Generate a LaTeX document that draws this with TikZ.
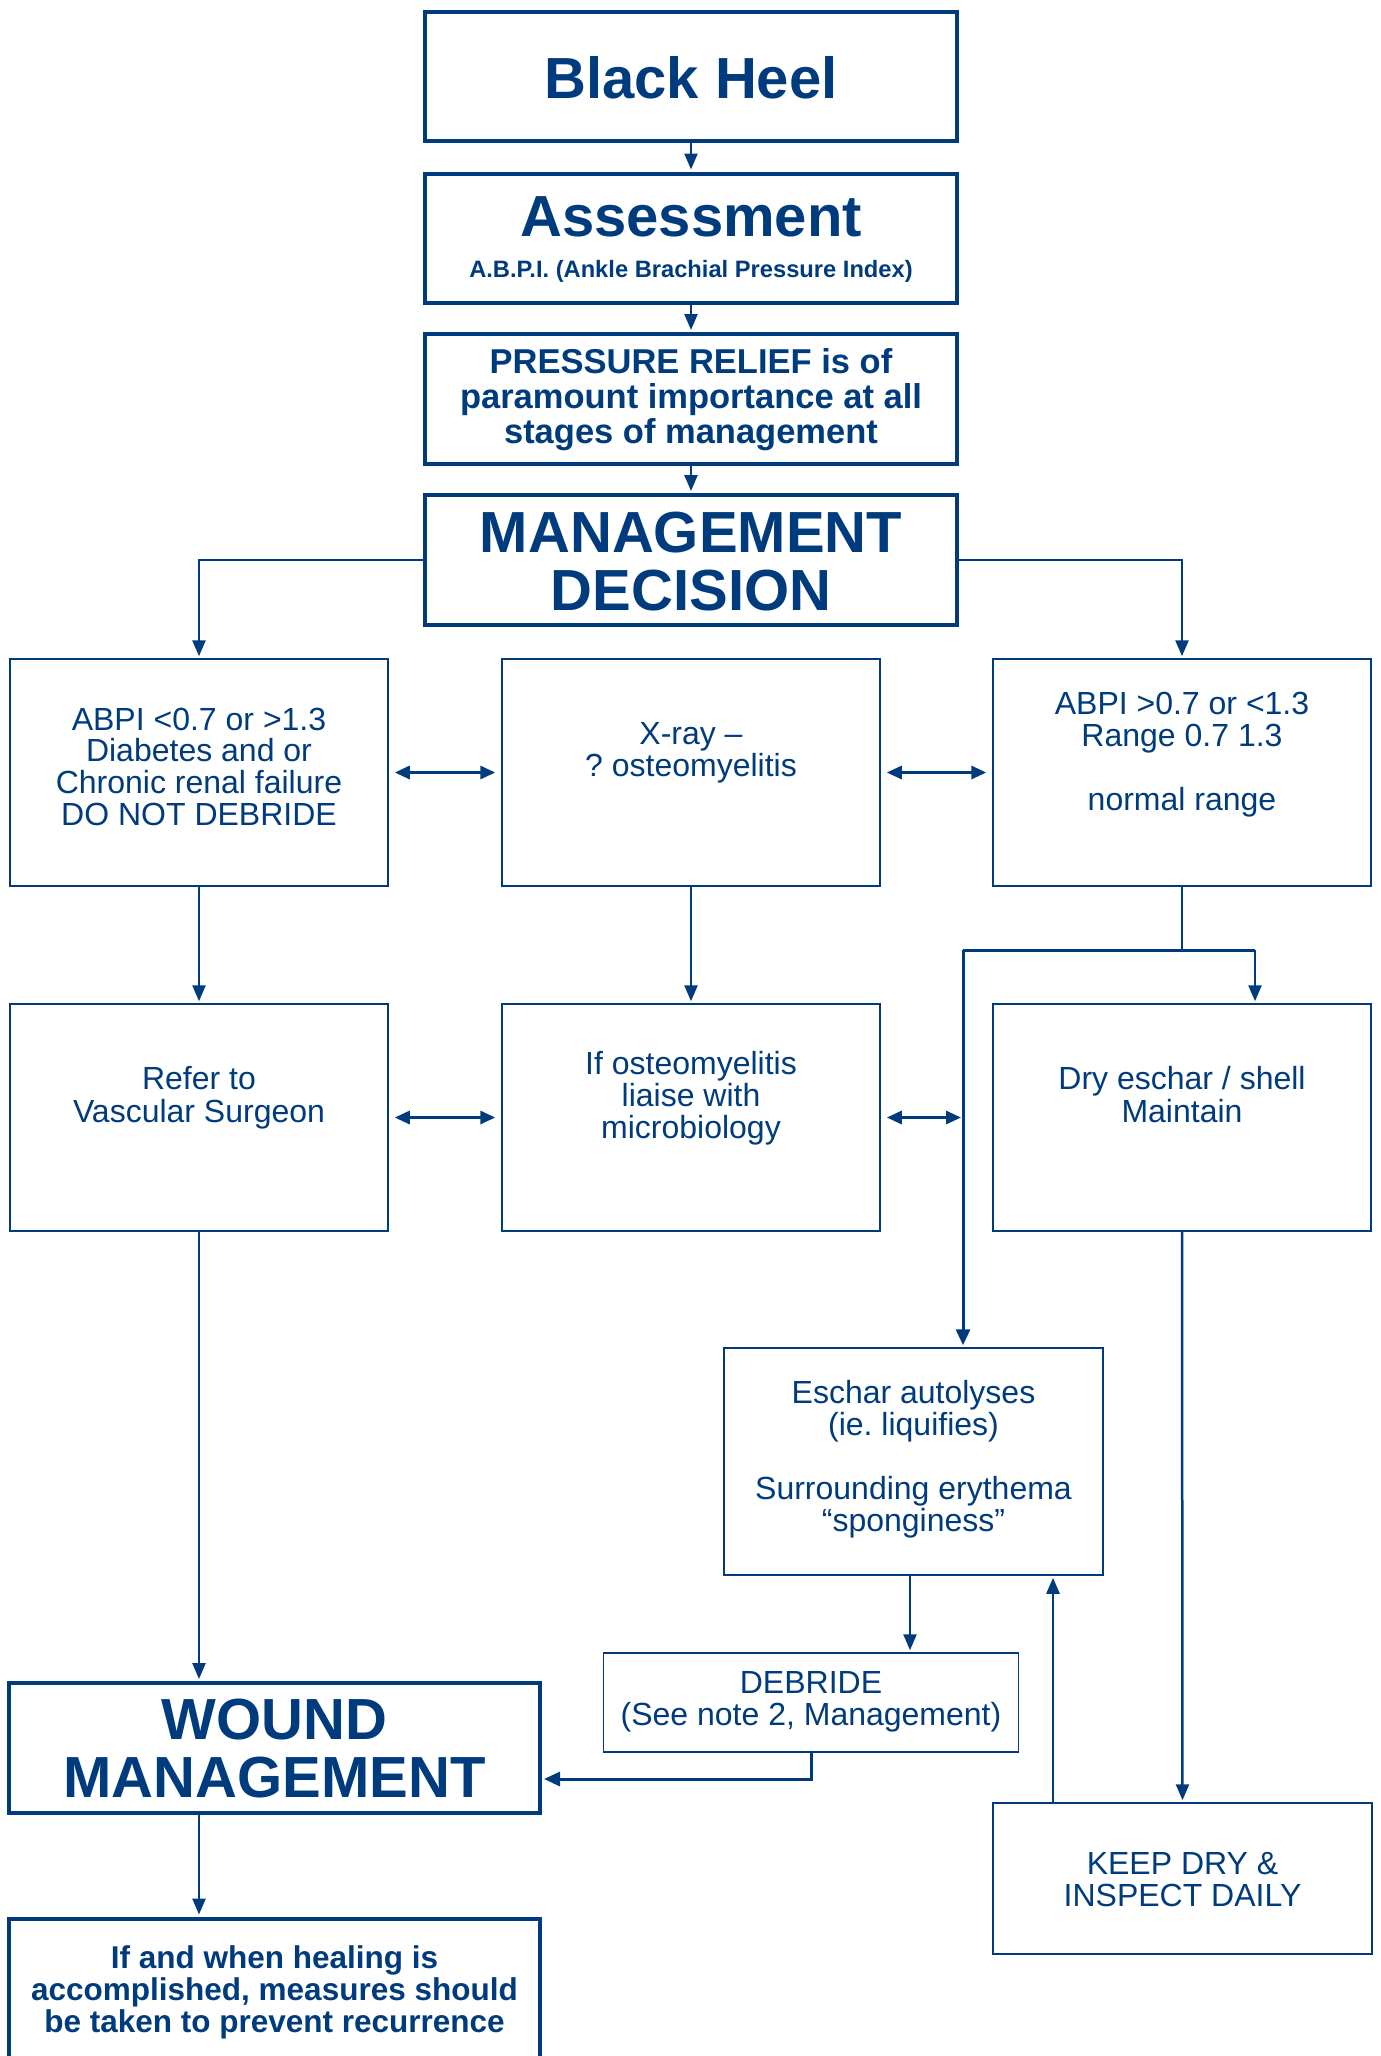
\documentclass[tikz,border=0pt]{standalone}
\usepackage{fontspec}
\setmainfont{Liberation Sans}
\usetikzlibrary{arrows.meta,calc}
\definecolor{navy}{RGB}{0,60,125}
\frenchspacing
\newcommand\sst{\rule[-0.22em]{0pt}{0.97em}}
\newcommand\fs[2]{\fontsize{#1}{#2}\selectfont}
\tikzset{
  thickbox/.style={draw=navy, line width=4pt, inner sep=0pt, rectangle},
  thinbox/.style={draw=navy, line width=1.5pt, inner sep=0pt, rectangle},
  txt/.style={text=navy, align=center, inner sep=0pt, anchor=north, execute at begin node=\frenchspacing},
  ln/.style={draw=navy, line width=2.2pt},
  lnthick/.style={draw=navy, line width=3pt},
  arr/.style={draw=navy, line width=2.5pt, -{Triangle[length=16pt,width=13pt]}, shorten >=2pt},
  arrthick/.style={draw=navy, line width=3pt, -{Triangle[length=16pt,width=14pt]}, shorten >=2pt},
  dbl/.style={draw=navy, line width=3pt, {Triangle[length=15pt,width=13pt]}-{Triangle[length=15pt,width=13pt]}},
}
\begin{document}
\begin{tikzpicture}[x=1pt,y=-1pt]
\useasboundingbox (0,0) rectangle (1381,2056);
\clip (0,0) rectangle (1381,2056);
\fill[white] (0,0) rectangle (1381,2056);
% boxes
\node[thickbox, minimum width=532pt, minimum height=129pt] (bh) at (691,76.5) {};
\node[thickbox, minimum width=532pt, minimum height=129pt] (as) at (691,238) {};
\node[thickbox, minimum width=532pt, minimum height=130pt] (pr) at (691,399) {};
\node[thickbox, minimum width=532pt, minimum height=130pt] (md) at (691,560) {};
\node[thinbox, minimum width=378pt, minimum height=227pt] (r1l) at (199,772.5) {};
\node[thinbox, minimum width=378pt, minimum height=227pt] (r1m) at (691,772.5) {};
\node[thinbox, minimum width=378pt, minimum height=227pt] (r1r) at (1182,772.5) {};
\node[thinbox, minimum width=378pt, minimum height=227pt] (r2l) at (199,1117.5) {};
\node[thinbox, minimum width=378pt, minimum height=227pt] (r2m) at (691,1117.5) {};
\node[thinbox, minimum width=378pt, minimum height=227pt] (r2r) at (1182,1117.5) {};
\node[thinbox, minimum width=379pt, minimum height=227pt] (es) at (913.5,1461.5) {};
\node[thinbox, minimum width=415pt, minimum height=99pt] (db) at (811,1702.5) {};
\node[thickbox, minimum width=531pt, minimum height=130pt] (wm) at (274.5,1748) {};
\node[thinbox, minimum width=379pt, minimum height=151pt] (kd) at (1182.5,1878.5) {};
\node[thickbox, minimum width=531pt, minimum height=181pt] (hl) at (274.5,2009) {};
% texts
\node[txt, font=\bfseries\fs{58}{58}] (bhT) at (691,54.5) {\sst Black Heel};
\node[txt, font=\bfseries\fs{58}{58}] (asT) at (691,192.5) {\sst Assessment};
\node[txt, font=\bfseries\fs{23.7}{24}] (asS) at (691,259.2) {\sst A.B.P.I. (Ankle Brachial Pressure Index)};
\node[txt, font=\bfseries\fs{34.5}{35}] (prT) at (691,347.6) {\sst PRESSURE RELIEF is of\\\sst paramount importance at all\\\sst stages of management};
\node[txt, font=\bfseries\fs{58}{58.5}] (mdT) at (691,508.5) {\sst MANAGEMENT\\\sst DECISION};
\node[txt, font=\fs{32}{31.7}] (r1lT) at (199,706) {\sst ABPI <0.7 or >1.3\\\sst Diabetes and or\\\sst Chronic renal failure\\\sst DO NOT DEBRIDE};
\node[txt, font=\fs{32}{31.7}] (r1mT) at (691,720.7) {\sst X-ray –\\\sst ? osteomyelitis};
\node[txt, font=\fs{32}{32}] (r1rT) at (1182,690) {\sst ABPI >0.7 or <1.3\\\sst Range 0.7 1.3\\\sst\\\sst normal range};
\node[txt, font=\fs{32}{33}] (r2lT) at (199,1065) {\sst Refer to\\\sst Vascular Surgeon};
\node[txt, font=\fs{32}{32}] (r2mT) at (691,1050) {\sst If osteomyelitis\\\sst liaise with\\\sst microbiology};
\node[txt, font=\fs{32}{33}] (r2rT) at (1182,1065) {\sst Dry eschar / shell\\\sst Maintain};
\node[txt, font=\fs{32}{31.8}] (esT) at (913.5,1379.7) {\sst Eschar autolyses\\\sst (ie. liquifies)\\\sst\\\sst Surrounding erythema\\\sst “sponginess”};
\node[txt, font=\fs{32}{32}] (dbT) at (811,1669) {\sst DEBRIDE\\\sst (See note 2, Management)};
\node[txt, font=\bfseries\fs{58}{58.6}] (wmT) at (274.5,1695.5) {\sst WOUND\\\sst MANAGEMENT};
\node[txt, font=\fs{32}{31}] (kdT) at (1182.5,1850) {\sst KEEP DRY \&\\\sst INSPECT DAILY};
\node[txt, font=\bfseries\fs{31.5}{32}] (hlT) at (274.5,1944.4) {\sst If and when healing is\\\sst accomplished, measures should\\\sst be taken to prevent recurrence};
% coordinates
\coordinate (j) at (963,950);
\coordinate (k) at (1255,950);
% connectors
\draw[arr] (bh.south) -- (as.north);
\draw[arr] (as.south) -- (pr.north);
\draw[arr] (pr.south) -- (md.north);
\draw[arr] (md.west) -| (r1l.north);
\draw[arr] (md.east) -| (r1r.north);
\draw[dbl, shorten <=6pt, shorten >=6pt] (r1l.east) -- (r1m.west);
\draw[dbl, shorten <=6pt, shorten >=6pt] (r1m.east) -- (r1r.west);
\draw[arr] (r1l.south) -- (r2l.north);
\draw[arr] (r1m.south) -- (r2m.north);
\draw[ln] (r1r.south) -- (r1r.south |- j);
\draw[lnthick] (j) -- (k);
\draw[arr] (k) -- (k |- r2r.north);
\draw[arrthick] (j) -- (j |- es.north);
\draw[dbl, shorten <=6pt, shorten >=6pt] (r2l.east) -- (r2m.west);
\draw[dbl, shorten <=6pt, shorten >=2pt] (r2m.east) -- (r2m.east -| j);
\draw[arr] (r2l.south) -- (r2l.south |- wm.north);
\draw[arr] (r2r.south) -- (kd.north);
\draw[arr] (910,0 |- es.south) -- (910,0 |- db.north);
\draw[arr] (1053,0 |- kd.north) -- (1053,0 |- es.south);
\draw[arrthick] (db.south) |- (wm.east |- 0,1779);
\draw[arr] (199,0 |- wm.south) -- (199,0 |- hl.north);
\end{tikzpicture}
\end{document}
